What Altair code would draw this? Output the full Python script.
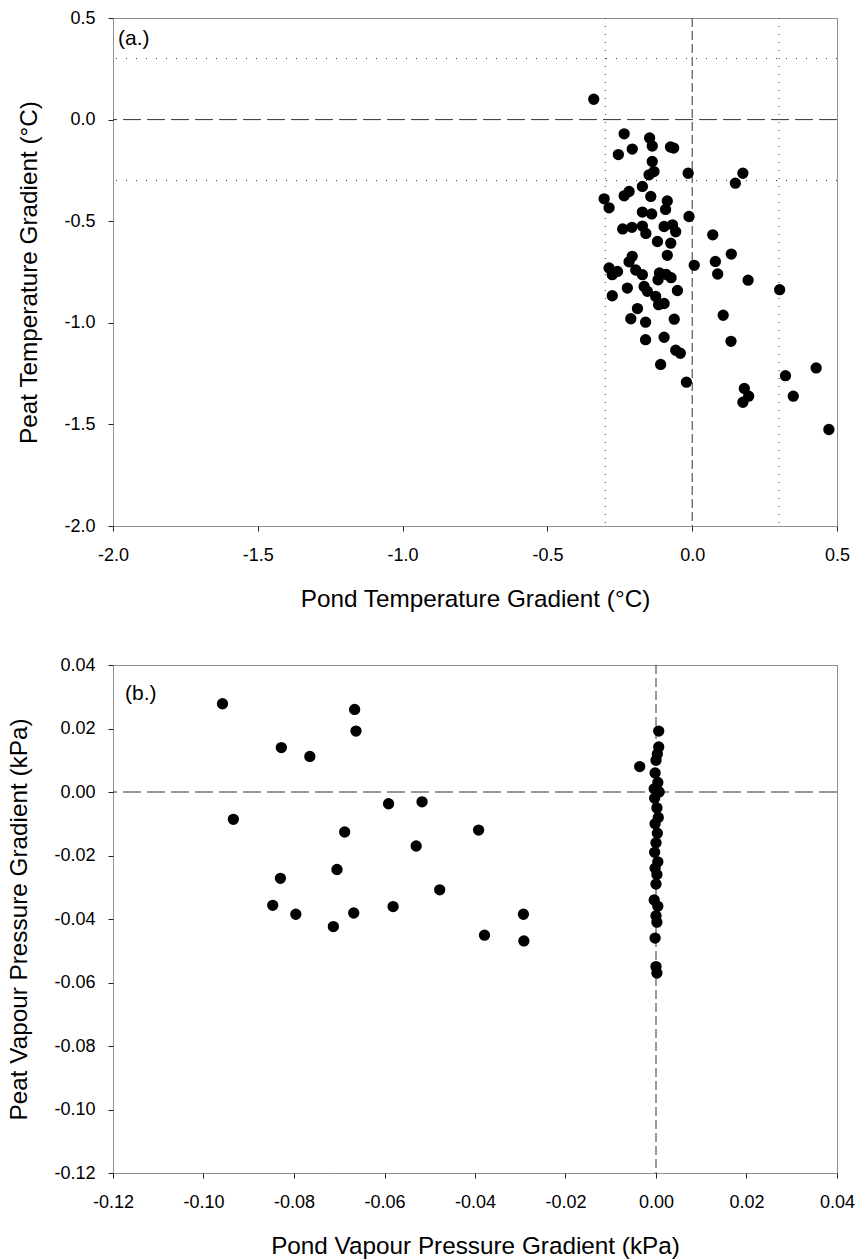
import altair as alt
import pandas as pd

# ---------------- Panel (a) data: temperature gradients (°C) ----------------
a_pond = [-0.34, -0.235, -0.147, -0.138, -0.207, -0.255, -0.075, -0.064, -0.138, -0.014,
          -0.149, -0.132, 0.175, 0.149, -0.172, -0.218, -0.235, -0.143, -0.304, -0.287,
          -0.086, -0.092, -0.172, -0.14, -0.011, -0.24, -0.208, -0.172, -0.16, -0.097,
          -0.068, -0.057, -0.12, -0.074, 0.071, 0.135, -0.086, 0.007, -0.207, -0.218,
          0.080, -0.287, -0.258, -0.276, -0.195, -0.172, -0.113, -0.09, -0.073, -0.118,
          0.088, 0.193, 0.302, -0.224, -0.276, -0.166, -0.155, -0.051, -0.126, -0.097,
          -0.116, -0.189, -0.212, -0.161, -0.062, 0.107, -0.161, -0.097, 0.134, -0.057,
          -0.041, -0.109, -0.02, 0.428, 0.322, 0.349, 0.18, 0.195, 0.175, 0.472]
a_peat = [0.10, -0.07, -0.09, -0.13, -0.145, -0.172, -0.135, -0.14, -0.206, -0.264,
          -0.272, -0.256, -0.264, -0.313, -0.329, -0.354, -0.375, -0.378, -0.39, -0.434,
          -0.40, -0.442, -0.455, -0.464, -0.477, -0.538, -0.53, -0.524, -0.56, -0.526,
          -0.518, -0.552, -0.60, -0.608, -0.567, -0.662, -0.668, -0.717, -0.673, -0.70,
          -0.698, -0.73, -0.747, -0.763, -0.74, -0.763, -0.755, -0.762, -0.778, -0.788,
          -0.76, -0.79, -0.837, -0.829, -0.867, -0.821, -0.845, -0.841, -0.87, -0.905,
          -0.911, -0.93, -0.98, -0.997, -0.982, -0.963, -1.083, -1.071, -1.091, -1.135,
          -1.15, -1.205, -1.292, -1.222, -1.26, -1.361, -1.323, -1.361, -1.391, -1.525]

# ---------------- Panel (b) data: vapour pressure gradients (kPa) ----------------
b_pond = [-0.0958, -0.0828, -0.0765, -0.0666, -0.0663, -0.0934, -0.0591, -0.0517, -0.0688,
          -0.0392, -0.053, -0.0705, -0.083, -0.0478, -0.0847, -0.0796, -0.0668, -0.0581,
          -0.0713, -0.0293, -0.0379, -0.0292,
          0.0006, 0.0006, -0.0036, 0.0003, 0.0, -0.0002, 0.0004, -0.0004, 0.0007, -0.0003,
          0.0002, 0.0005, -0.0002, 0.0003, 0.0, -0.0003, 0.0004, -0.0002, 0.0002, 0.0,
          -0.0004, 0.0004, 0.0, 0.0002, -0.0002, 0.0, 0.0002]
b_peat = [0.0278, 0.014, 0.0112, 0.026, 0.0192, -0.0086, -0.0037, -0.0031, -0.0126,
          -0.012, -0.017, -0.0244, -0.0272, -0.0308, -0.0357, -0.0385, -0.0381, -0.0361,
          -0.0424, -0.0385, -0.0451, -0.0469,
          0.0192, 0.0142, 0.008, 0.012, 0.010, 0.006, 0.003, 0.001, 0.0, -0.002,
          -0.005, -0.008, -0.010, -0.013, -0.016, -0.019, -0.022, -0.024, -0.026, -0.029,
          -0.034, -0.036, -0.039, -0.041, -0.046, -0.055, -0.057]

a_zero = [0.0]
a_tol = [-0.3, 0.3]
b_zero = [0.0]

a_ticks = [-2.0, -1.5, -1.0, -0.5, 0.0, 0.5]
b_ticks = [-0.12, -0.10, -0.08, -0.06, -0.04, -0.02, 0.00, 0.02, 0.04]

FONT = "Liberation Sans"
W, H = 724, 508
LBL = "replace(datum.label, '\u2212', '-')"


def panel(px, py, xdom, ydom, ticks, fmt, xtitle, ytitle, tag, tdx, tdy, zero, tol):
    df = pd.DataFrame({"x": px, "y": py})
    xs = alt.Scale(domain=xdom, nice=False, zero=False)
    ys = alt.Scale(domain=ydom, nice=False, zero=False)
    xax = alt.Axis(values=ticks, format=fmt, labelExpr=LBL, title=xtitle, grid=False,
                   domain=False, tickSize=5, labelPadding=15, titlePadding=23,
                   labelFlush=False, labelOverlap=False)
    yax = alt.Axis(values=ticks, format=fmt, labelExpr=LBL, title=ytitle, grid=False,
                   domain=False, tickSize=5, labelPadding=13, titlePadding=22,
                   labelFlush=False, labelOverlap=False)

    pts = alt.Chart(df).mark_circle(size=128, color="black", opacity=1).encode(
        x=alt.X("x:Q", scale=xs, axis=xax),
        y=alt.Y("y:Q", scale=ys, axis=yax),
    )
    zdf = pd.DataFrame({"v": zero})
    zv = alt.Chart(zdf).mark_rule(color="#333", strokeWidth=1, strokeDash=[9, 4]).encode(
        x=alt.X("v:Q", scale=xs))
    zh = alt.Chart(zdf).mark_rule(color="#333", strokeWidth=1, strokeDash=[18, 6]).encode(
        y=alt.Y("v:Q", scale=ys))
    layers = [zv, zh]
    if tol:
        tdf = pd.DataFrame({"v": tol})
        tv = alt.Chart(tdf).mark_rule(color="#333", strokeWidth=1, strokeDash=[1, 7]).encode(
            x=alt.X("v:Q", scale=xs))
        th = alt.Chart(tdf).mark_rule(color="#333", strokeWidth=1, strokeDash=[1, 9]).encode(
            y=alt.Y("v:Q", scale=ys))
        layers += [tv, th]
    lab = alt.Chart(pd.DataFrame({"x": [xdom[0]], "y": [ydom[1]], "t": [tag]})).mark_text(
        align="left", baseline="top", dx=tdx, dy=tdy, fontSize=21, font=FONT, color="black"
    ).encode(x=alt.X("x:Q", scale=xs), y=alt.Y("y:Q", scale=ys), text="t:N")
    return alt.layer(*layers, pts, lab).properties(width=W, height=H)


pa = panel(a_pond, a_peat, [-2.0, 0.5], [-2.0, 0.5], a_ticks, ".1f",
           "Pond Temperature Gradient (\u00b0C)", "Peat Temperature Gradient (\u00b0C)",
           "(a.)", 5, 10, a_zero, a_tol)
pb = panel(b_pond, b_peat, [-0.12, 0.04], [-0.12, 0.04], b_ticks, ".2f",
           "Pond Vapour Pressure Gradient (kPa)", "Peat Vapour Pressure Gradient (kPa)",
           "(b.)", 12, 18, b_zero, None)

chart = alt.vconcat(pa, pb, spacing=43).properties(
    padding={"left": 7, "top": 8, "right": 0, "bottom": 2},
    background="white",
).configure_view(
    stroke="#222", strokeWidth=1, strokeDash=[1, 1]
).configure_axis(
    labelFont=FONT, titleFont=FONT, labelFontSize=18, titleFontSize=24.3,
    titleFontWeight="normal", labelColor="black", titleColor="black",
    tickColor="#222", tickWidth=1,
)

chart.save("out.html", embed_options={"renderer": "svg", "actions": False})
